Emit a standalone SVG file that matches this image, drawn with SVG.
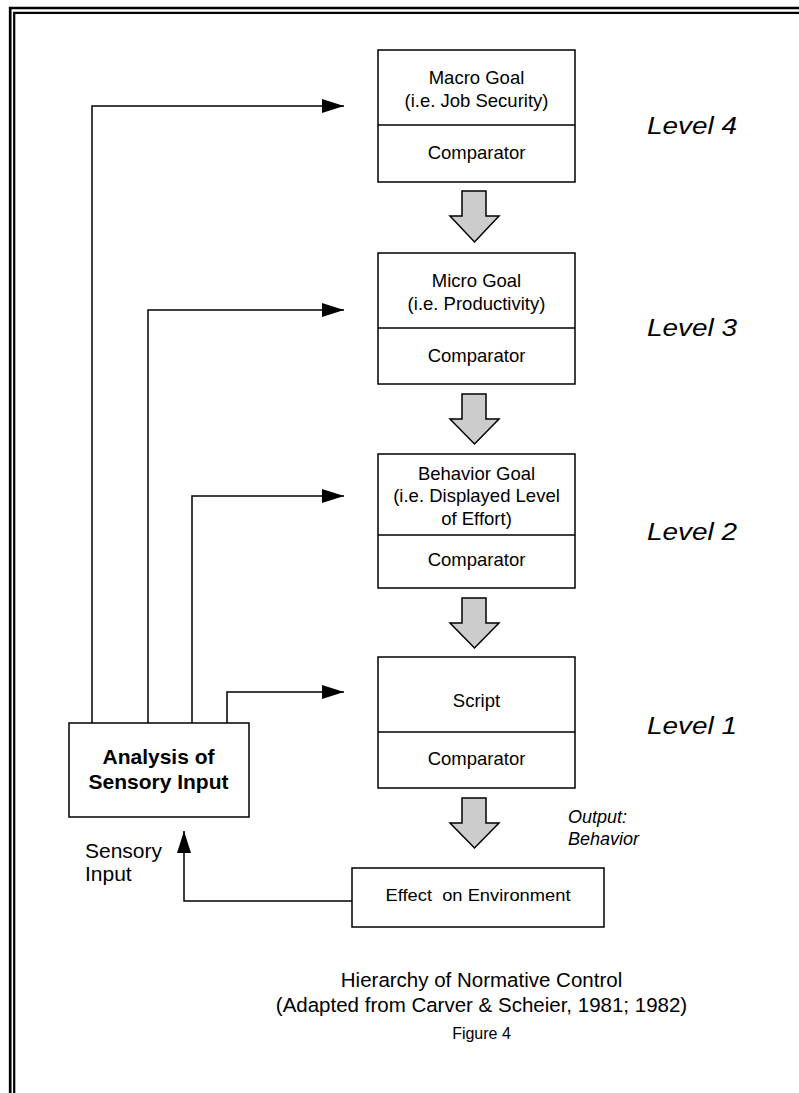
<svg xmlns="http://www.w3.org/2000/svg" width="799" height="1093" viewBox="0 0 799 1093">
<style>
.box{fill:#fff;stroke:#000;stroke-width:1.5}
.div{stroke:#000;stroke-width:1.5}
.blk{fill:#cccccc;stroke:#000;stroke-width:1.5;stroke-linejoin:miter}
.con{fill:none;stroke:#000;stroke-width:1.5}
.t{font-family:"Liberation Sans",Arial,sans-serif;font-size:18.5px;fill:#000;text-anchor:middle}
.lvl{font-family:"Liberation Sans",Arial,sans-serif;font-size:23.5px;font-style:italic;fill:#000}
.b{font-family:"Liberation Sans",Arial,sans-serif;font-size:21px;font-weight:bold;fill:#000;text-anchor:middle}
.s{font-family:"Liberation Sans",Arial,sans-serif;font-size:21px;fill:#000}
.o{font-family:"Liberation Sans",Arial,sans-serif;font-size:18px;font-style:italic;fill:#000}
.cap{font-family:"Liberation Sans",Arial,sans-serif;font-size:20.5px;fill:#000;text-anchor:middle}
</style>
<defs>
<marker id="ah" markerWidth="22" markerHeight="14" refX="22" refY="7" orient="auto" markerUnits="userSpaceOnUse">
<path d="M0,0 L22,7 L0,14 Z" fill="#000"/>
</marker>
</defs>
<rect width="799" height="1093" fill="#fff"/>
<g id="border">
<path d="M10.2,1093 V8 H799" fill="none" stroke="#000" stroke-width="2.7"/>
<path d="M14.2,1093 V12.8 H799" fill="none" stroke="#000" stroke-width="2.2"/>
</g>
<g id="connectors">
<polyline class="con" points="92,723 92,106 344,106" marker-end="url(#ah)"/>
<polyline class="con" points="148,723 148,310 344,310" marker-end="url(#ah)"/>
<polyline class="con" points="192,723 192,496 344,496" marker-end="url(#ah)"/>
<polyline class="con" points="227,723 227,692 344,692" marker-end="url(#ah)"/>
<polyline class="con" points="352,901 184,901 184,831" marker-end="url(#ah)"/>
<path class="blk" d="M462,191 H486 V216 H499 L474.5,242 L450,216 H462 Z"/>
<path class="blk" d="M462,394 H486 V419 H499 L474.5,444 L450,419 H462 Z"/>
<path class="blk" d="M462,598 H486 V623 H499 L474.5,648 L450,623 H462 Z"/>
<path class="blk" d="M462,798 H486 V823 H499 L474.5,848 L450,823 H462 Z"/>
</g>
<g id="level4">
<rect class="box" x="378" y="50" width="197" height="132"/>
<line class="div" x1="378" y1="125" x2="575" y2="125"/>
<text class="t" x="476.5" y="84.3">Macro Goal</text>
<text class="t" x="476.5" y="106.7">(i.e. Job Security)</text>
<text class="t" x="476.5" y="158.5">Comparator</text>
</g>
<g id="level3">
<rect class="box" x="378" y="253" width="197" height="131"/>
<line class="div" x1="378" y1="328" x2="575" y2="328"/>
<text class="t" x="476.5" y="287.3">Micro Goal</text>
<text class="t" x="476.5" y="309.7">(i.e. Productivity)</text>
<text class="t" x="476.5" y="362">Comparator</text>
</g>
<g id="level2">
<rect class="box" x="378" y="454" width="197" height="134"/>
<line class="div" x1="378" y1="535" x2="575" y2="535"/>
<text class="t" x="476.5" y="479.5">Behavior Goal</text>
<text class="t" x="476.5" y="502">(i.e. Displayed Level</text>
<text class="t" x="476.5" y="524.5">of Effort)</text>
<text class="t" x="476.5" y="565.5">Comparator</text>
</g>
<g id="level1">
<rect class="box" x="378" y="657" width="197" height="131"/>
<line class="div" x1="378" y1="732" x2="575" y2="732"/>
<text class="t" x="476.5" y="706.7">Script</text>
<text class="t" x="476.5" y="765">Comparator</text>
</g>
<g id="labels">
<text class="lvl" x="647" y="134" textLength="90" lengthAdjust="spacingAndGlyphs">Level 4</text>
<text class="lvl" x="647" y="336" textLength="90" lengthAdjust="spacingAndGlyphs">Level 3</text>
<text class="lvl" x="647" y="540" textLength="90" lengthAdjust="spacingAndGlyphs">Level 2</text>
<text class="lvl" x="647" y="734" textLength="90" lengthAdjust="spacingAndGlyphs">Level 1</text>
<text class="o" x="568" y="823">Output:</text>
<text class="o" x="568" y="845">Behavior</text>
<text class="s" x="85" y="858">Sensory</text>
<text class="s" x="85" y="881">Input</text>
</g>
<g id="analysis">
<rect class="box" x="69" y="723" width="180" height="94"/>
<text class="b" x="158.5" y="764">Analysis of</text>
<text class="b" x="158.5" y="789">Sensory Input</text>
</g>
<g id="effect">
<rect class="box" x="352" y="868" width="252" height="59"/>
<text class="t" x="478" y="901" xml:space="preserve" style="font-size:17px" textLength="185" lengthAdjust="spacingAndGlyphs">Effect  on Environment</text>
</g>
<g id="caption">
<text class="cap" x="481.5" y="987">Hierarchy of Normative Control</text>
<text class="cap" x="481.5" y="1012">(Adapted from Carver &amp; Scheier, 1981; 1982)</text>
<text class="cap" x="481.5" y="1039" style="font-size:16px">Figure 4</text>
</g>
</svg>
